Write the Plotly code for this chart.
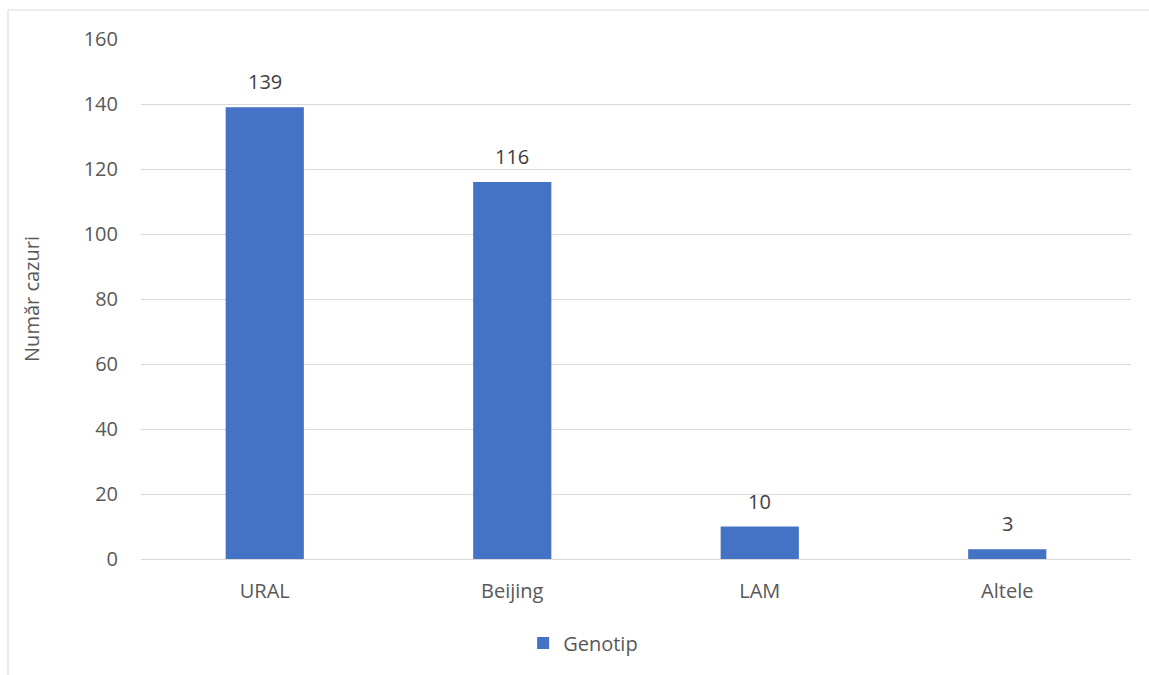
import plotly.graph_objects as go

categories = ["URAL", "Beijing", "LAM", "Altele"]
cases = [139, 116, 10, 3]
y_ticks = [0, 20, 40, 60, 80, 100, 120, 140, 160]

BAR_COLOR = "#4472C4"
FONT = "Open Sans, Liberation Sans, sans-serif"
FS = 20

fig = go.Figure()
fig.add_trace(go.Bar(
    x=categories,
    y=cases,
    name="Genotip",
    marker=dict(color=BAR_COLOR, line=dict(width=0)),
    showlegend=True,
))

# value labels above each bar
for cat, val in zip(categories, cases):
    fig.add_annotation(
        x=cat, y=val, text=str(val), showarrow=False,
        yanchor="bottom", yshift=10,
        font=dict(family=FONT, size=FS, color="#404040"),
    )

# outer chart frame (only top and left edges fall inside the page)
fig.add_shape(
    type="rect", xref="paper", yref="paper",
    x0=-0.1343, x1=1.2, y0=-0.4, y1=1.0558,
    line=dict(color="#D9D9D9", width=1), layer="below",
)

fig.update_layout(
    width=1149, height=675,
    margin=dict(l=141, r=18, t=39, b=116),
    paper_bgcolor="white", plot_bgcolor="white",
    bargap=0.684,
    font=dict(family=FONT, size=FS, color="#595959"),
    showlegend=True,
    legend=dict(
        orientation="h", x=0.386, y=-0.124, xanchor="left", yanchor="top",
        font=dict(family=FONT, size=FS, color="#595959"),
        itemwidth=30,
    ),
    xaxis=dict(
        showgrid=False, showline=False, ticks="",
        tickfont=dict(family=FONT, size=FS, color="#595959"),
        ticklabelstandoff=18,
    ),
    yaxis=dict(
        range=[0, 160], tickvals=y_ticks, ticks="",
        showgrid=True, gridcolor="#D9D9D9", gridwidth=1,
        zeroline=True, zerolinecolor="#D9D9D9", zerolinewidth=1,
        showline=False,
        tickfont=dict(family=FONT, size=FS, color="#595959"),
        ticklabelstandoff=22,
        title=dict(text="Număr cazuri", standoff=38,
                   font=dict(family=FONT, size=FS, color="#595959")),
    ),
)

fig.write_html("out.html")
